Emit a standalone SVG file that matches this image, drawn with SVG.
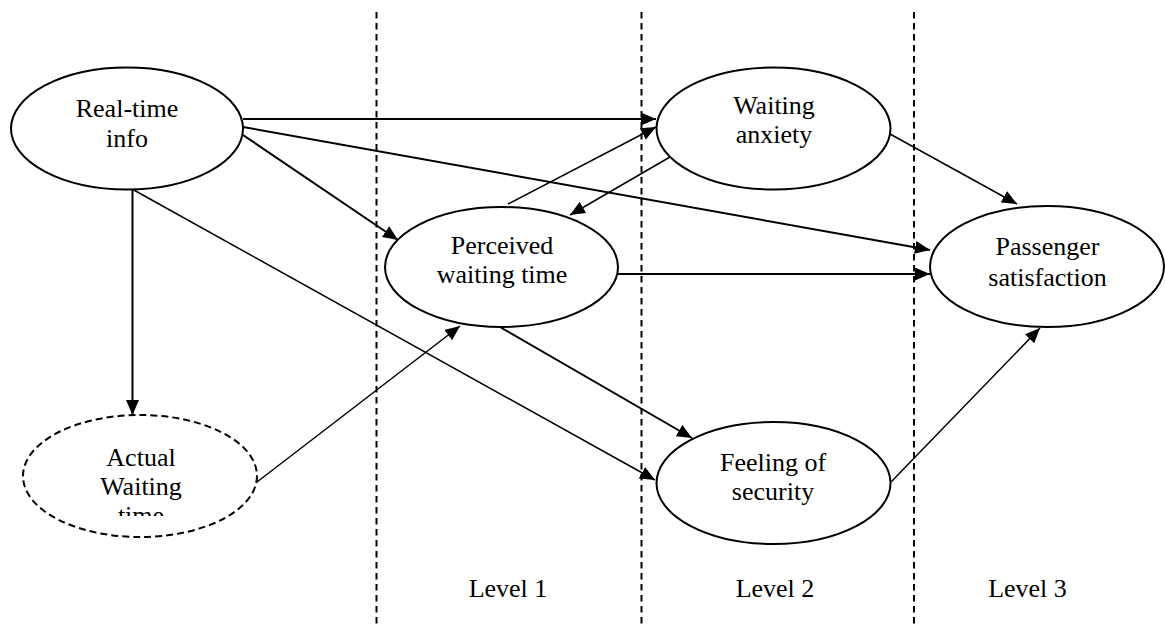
<svg xmlns="http://www.w3.org/2000/svg" width="1165" height="624" viewBox="0 0 1165 624">
  <style>
    .node { fill: #fff; stroke: #000; stroke-width: 2; }
    .latent { fill: #fff; stroke: #000; stroke-width: 2; stroke-dasharray: 7 4; }
    .label { font-family: "Liberation Serif", "Times New Roman", serif; font-size: 26px; fill: #000; text-anchor: middle; }
    .divider { stroke: #000; stroke-width: 2; stroke-dasharray: 6.5 4.5; fill: none; }
    .link { stroke: #000; stroke-width: 2; fill: none; marker-end: url(#arrow); }
    .link.thin { stroke-width: 1.5; }
  </style>
  <defs>
    <marker id="arrow" markerUnits="userSpaceOnUse" markerWidth="16" markerHeight="14" refX="15" refY="6.5" orient="auto">
      <path d="M0,0 L15,6.5 L0,13 z" fill="#000"/>
    </marker>
    <clipPath id="clip-actual">
      <rect x="0" y="400" width="300" height="116"/>
    </clipPath>
  </defs>
  <rect width="1165" height="624" fill="#fff"/>

  <!-- level dividers -->
  <g id="dividers">
    <line class="divider" x1="376.5" y1="12" x2="376.5" y2="624"/>
    <line class="divider" x1="641.5" y1="12" x2="641.5" y2="624"/>
    <line class="divider" x1="914" y1="12" x2="914" y2="624"/>
  </g>

  <!-- connectors -->
  <g id="connectors">
    <line class="link" x1="243" y1="119" x2="656" y2="119"/>
    <line class="link" x1="243" y1="127" x2="930" y2="250"/>
    <line class="link" x1="243" y1="135" x2="398" y2="240"/>
    <line class="link thin" x1="132" y1="189" x2="655" y2="480"/>
    <line class="link" x1="132.5" y1="190" x2="132.5" y2="415"/>
    <line class="link thin" x1="508" y1="204" x2="656" y2="127"/>
    <line class="link thin" x1="670" y1="157" x2="570" y2="215"/>
    <line class="link" x1="618" y1="274" x2="930" y2="274"/>
    <line class="link thin" x1="890" y1="134" x2="1017" y2="204"/>
    <line class="link thin" x1="257" y1="482" x2="460" y2="326"/>
    <line class="link" x1="500" y1="327" x2="692" y2="438"/>
    <line class="link thin" x1="891" y1="482" x2="1040" y2="328"/>
  </g>

  <g id="real-time-info">
    <ellipse class="node" cx="127" cy="128.5" rx="116" ry="61"/>
    <text class="label" x="127" y="117">Real-time</text>
    <text class="label" x="127" y="147">info</text>
  </g>

  <g id="waiting-anxiety">
    <ellipse class="node" cx="773.5" cy="128.5" rx="117" ry="61"/>
    <text class="label" x="774" y="114">Waiting</text>
    <text class="label" x="774" y="143">anxiety</text>
  </g>

  <g id="perceived-waiting-time">
    <ellipse class="node" cx="501.5" cy="267" rx="116.5" ry="60"/>
    <text class="label" x="502" y="254">Perceived</text>
    <text class="label" x="502" y="283">waiting time</text>
  </g>

  <g id="passenger-satisfaction">
    <ellipse class="node" cx="1047" cy="266.5" rx="117" ry="60.5"/>
    <text class="label" x="1047.5" y="255">Passenger</text>
    <text class="label" x="1047.5" y="286">satisfaction</text>
  </g>

  <g id="feeling-of-security">
    <ellipse class="node" cx="773.5" cy="483" rx="117" ry="61"/>
    <text class="label" x="773" y="471">Feeling of</text>
    <text class="label" x="773" y="500">security</text>
  </g>

  <g id="actual-waiting-time">
    <ellipse class="latent" cx="140" cy="476" rx="117" ry="61"/>
    <g clip-path="url(#clip-actual)">
      <text class="label" x="141" y="466">Actual</text>
      <text class="label" x="141" y="495">Waiting</text>
      <text class="label" x="141" y="524">time</text>
    </g>
  </g>

  <g id="levels">
    <text class="label" x="508" y="597">Level 1</text>
    <text class="label" x="775" y="597">Level 2</text>
    <text class="label" x="1027.5" y="597">Level 3</text>
  </g>
</svg>
